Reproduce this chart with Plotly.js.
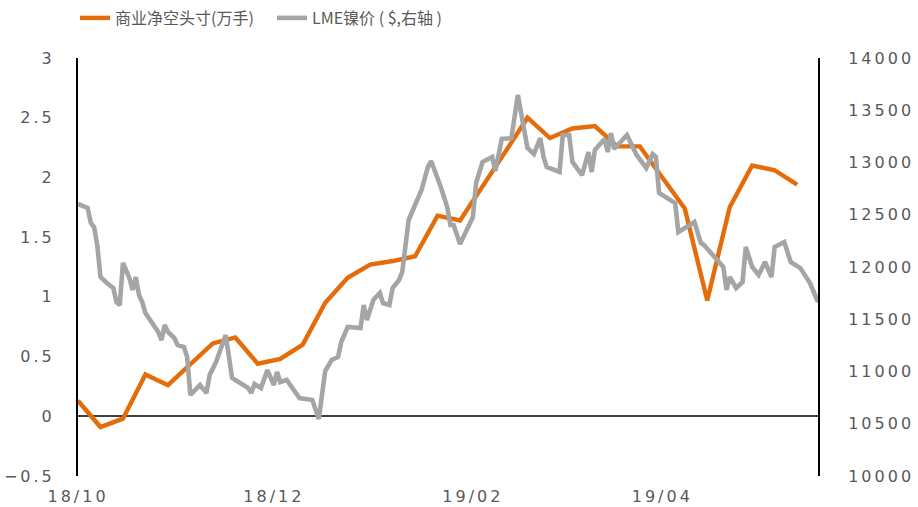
<!DOCTYPE html>
<html>
<head>
<meta charset="utf-8">
<script src="https://cdn.plot.ly/plotly-3.0.1.min.js"></script>
<style>
  html, body { margin: 0; padding: 0; background: #fff; }
  #chart { width: 918px; height: 507px; }
  .xtick text, .ytick text, .y2tick text { letter-spacing: 3px; }
</style>
</head>
<body>
<div id="chart"></div>
<script>
// Weekly commercial net short position (10k lots)
const cotDates = ["2018-10-01","2018-10-08","2018-10-15","2018-10-22","2018-10-29","2018-11-05","2018-11-12","2018-11-19","2018-11-26","2018-12-03","2018-12-10","2018-12-17","2018-12-24","2018-12-31","2019-01-07","2019-01-14","2019-01-21","2019-01-28","2019-02-04","2019-02-11","2019-02-18","2019-02-25","2019-03-04","2019-03-11","2019-03-18","2019-03-25","2019-04-01","2019-04-08","2019-04-15","2019-04-22","2019-04-29","2019-05-06","2019-05-13"];
const netShort = [0.13,-0.09,-0.02,0.35,0.26,0.43,0.61,0.66,0.44,0.48,0.60,0.95,1.16,1.27,1.30,1.34,1.68,1.64,1.92,2.21,2.50,2.33,2.41,2.43,2.26,2.26,2.00,1.74,0.97,1.75,2.10,2.06,1.94];

// LME nickel price ($/t)
const lmeDates = ["2018-10-01","2018-10-04","2018-10-05","2018-10-06","2018-10-07","2018-10-08","2018-10-10","2018-10-12","2018-10-13","2018-10-14","2018-10-15","2018-10-17","2018-10-18","2018-10-19","2018-10-20","2018-10-21","2018-10-22","2018-10-24","2018-10-25","2018-10-26","2018-10-27","2018-10-28","2018-10-29","2018-10-31","2018-11-01","2018-11-03","2018-11-04","2018-11-05","2018-11-08","2018-11-10","2018-11-11","2018-11-13","2018-11-16","2018-11-18","2018-11-20","2018-11-23","2018-11-24","2018-11-25","2018-11-27","2018-11-29","2018-12-01","2018-12-02","2018-12-03","2018-12-05","2018-12-09","2018-12-12","2018-12-13","2018-12-15","2018-12-17","2018-12-19","2018-12-21","2018-12-22","2018-12-24","2018-12-28","2018-12-29","2018-12-30","2019-01-01","2019-01-03","2019-01-04","2019-01-06","2019-01-07","2019-01-09","2019-01-10","2019-01-12","2019-01-16","2019-01-18","2019-01-19","2019-01-22","2019-01-24","2019-01-25","2019-01-26","2019-01-28","2019-01-30","2019-02-01","2019-02-02","2019-02-04","2019-02-07","2019-02-08","2019-02-10","2019-02-13","2019-02-15","2019-02-18","2019-02-20","2019-02-22","2019-02-23","2019-02-24","2019-02-28","2019-03-01","2019-03-03","2019-03-04","2019-03-07","2019-03-09","2019-03-10","2019-03-11","2019-03-14","2019-03-15","2019-03-16","2019-03-17","2019-03-21","2019-03-24","2019-03-27","2019-03-29","2019-03-30","2019-03-31","2019-04-05","2019-04-06","2019-04-11","2019-04-13","2019-04-14","2019-04-20","2019-04-21","2019-04-22","2019-04-24","2019-04-26","2019-04-27","2019-04-29","2019-05-01","2019-05-03","2019-05-05","2019-05-06","2019-05-09","2019-05-11","2019-05-14","2019-05-17","2019-05-19 12:00"];
const lmePrice = [12603,12565,12421,12383,12210,11904,11847,11799,11665,11636,12038,11895,11780,11904,11732,11665,11560,11474,11426,11378,11301,11445,11378,11321,11254,11234,11139,10775,10871,10794,10966,11091,11349,10938,10899,10842,10794,10880,10842,11014,10871,10995,10899,10919,10746,10727,10727,10545,11005,11110,11139,11282,11426,11416,11636,11493,11684,11751,11655,11636,11799,11876,11952,12450,12737,12957,13014,12765,12574,12402,12402,12220,12354,12478,12804,13005,13053,12919,13225,13234,13646,13139,13081,13234,13053,12957,12909,13263,13263,13005,12880,13100,12909,13120,13225,13100,13282,13129,13263,13072,12947,13081,13053,12708,12612,12335,12431,12230,12210,12000,11780,11904,11799,11856,12191,12000,11923,12048,11904,12191,12239,12048,11990,11847,11665];

const xTickVals = ["2018-10-01","2018-12-01","2019-02-01","2019-04-01"];
const xTickText = ["18/10","18/12","19/02","19/04"];
const seriesNames = ["商业净空头寸(万手)","LME镍价 ( $,右轴 )"];

const tickFont = {family: "DejaVu Sans, Verdana, sans-serif", size: 16, color: "#595959"};

const traces = [
  {
    x: cotDates, y: netShort, name: seriesNames[0], type: "scatter", mode: "lines",
    line: {color: "#E46C0A", width: 4.4}, yaxis: "y", hoverinfo: "skip"
  },
  {
    x: lmeDates, y: lmePrice, name: seriesNames[1], type: "scatter", mode: "lines",
    line: {color: "#A5A5A5", width: 4.6}, yaxis: "y2", hoverinfo: "skip"
  }
];

const layout = {
  width: 918, height: 507,
  margin: {l: 78, r: 100, t: 58, b: 31, pad: 0},
  paper_bgcolor: "#ffffff", plot_bgcolor: "#ffffff",
  showlegend: true,
  legend: {
    orientation: "h", xref: "container", yref: "container",
    x: 0.0817, xanchor: "left", y: 0.9645, yanchor: "middle",
    font: {family: "Noto Sans CJK SC, sans-serif", size: 16, color: "#595959"},
    bgcolor: "rgba(0,0,0,0)", itemwidth: 30, entrywidth: 152
  },
  xaxis: {
    type: "date", range: ["2018-10-01", "2019-05-19 12:00"],
    tickmode: "array", tickvals: xTickVals, ticktext: xTickText,
    showgrid: false, zeroline: false, showline: false,
    ticks: "outside", ticklen: 6, tickcolor: "rgba(0,0,0,0)",
    tickfont: tickFont
  },
  yaxis: {
    range: [-0.5, 3], dtick: 0.5, tick0: 0,
    showgrid: false, zeroline: true, zerolinecolor: "#404040", zerolinewidth: 1.6,
    showline: true, linecolor: "#000000", linewidth: 2,
    ticks: "outside", ticklen: 18, tickcolor: "rgba(0,0,0,0)",
    tickfont: tickFont
  },
  yaxis2: {
    range: [10000, 14000], dtick: 500, tick0: 10000, tickformat: "d",
    overlaying: "y", side: "right",
    showgrid: false, zeroline: false,
    showline: true, linecolor: "#000000", linewidth: 2,
    ticks: "outside", ticklen: 25, tickcolor: "rgba(0,0,0,0)",
    tickfont: tickFont
  }
};

Plotly.newPlot("chart", traces, layout, {staticPlot: true, displayModeBar: false});
</script>
</body>
</html>
